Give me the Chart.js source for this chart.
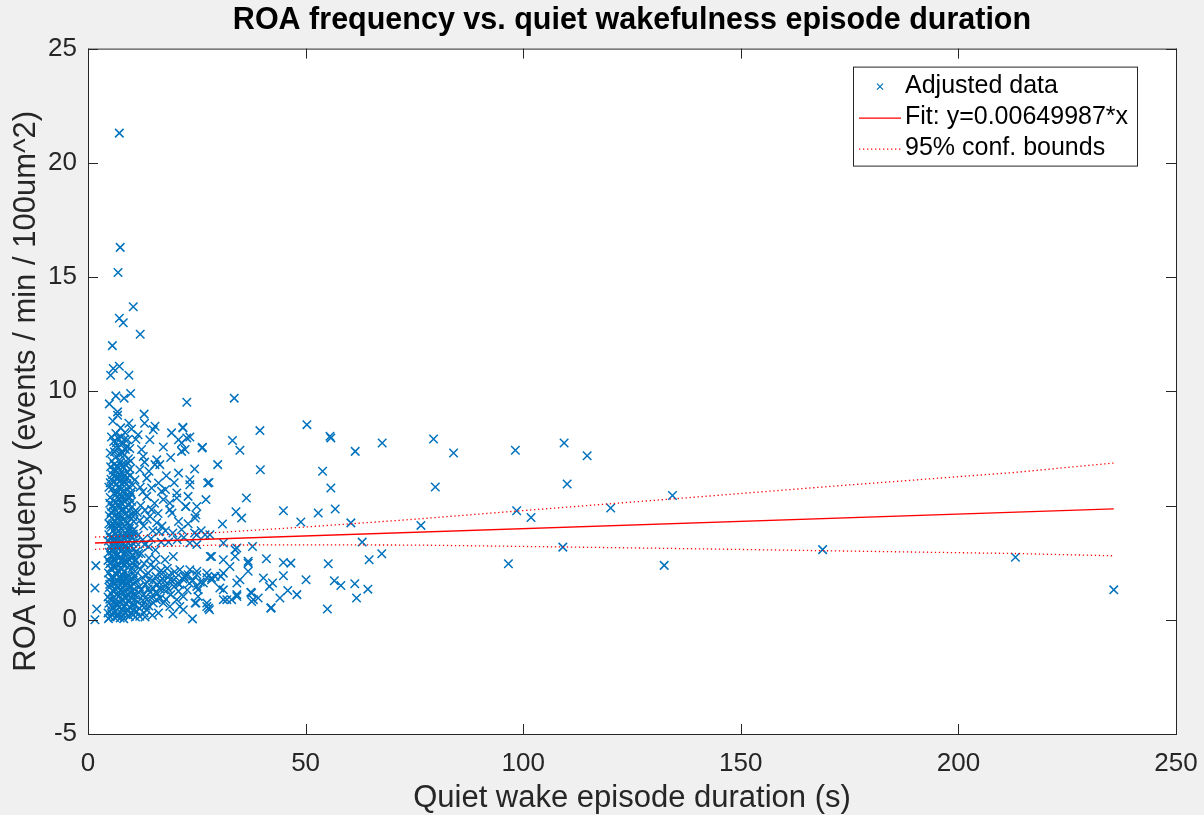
<!DOCTYPE html>
<html>
<head>
<meta charset="utf-8">
<script src="https://cdn.jsdelivr.net/npm/chart.js@4.4.1/dist/chart.umd.min.js"></script>
<style>
  html, body { margin: 0; padding: 0; background: #f0f0f0; }
  canvas { display: block; }
</style>
</head>
<body>
<canvas id="roaChart" width="1204" height="815"></canvas>
<script>
// episodes shorter than ~3 s (isolated, left of the main column)
const veryShort = [
  [1.8, 2.37], [1.6, 1.39], [2.0, 0.47], [1.6, 0.0]
];

// dense column, ~4.5-11 s
const shortEpisodes = [
  [5.1, 0.12], [6.3, 0.35], [7.4, 0.08], [8.6, 0.28], [9.5, 0.15], [10.4, 0.42], [5.8, 0.5], [7.9, 0.47],
  [4.8, 0.72], [5.9, 0.95], [6.8, 0.63], [7.7, 0.88], [8.9, 0.7], [9.8, 0.98], [10.6, 0.66],
  [5.3, 1.15], [6.4, 1.32], [7.2, 1.05], [8.1, 1.38], [9.1, 1.12], [10.2, 1.27], [4.9, 1.41],
  [5.6, 1.62], [6.7, 1.5], [7.6, 1.77], [8.5, 1.55], [9.4, 1.72], [10.5, 1.58], [6.0, 1.85],
  [4.7, 2.05], [5.5, 2.2], [6.6, 1.98], [7.5, 2.28], [8.3, 2.1], [9.3, 1.95], [10.1, 2.25],
  [5.0, 2.45], [6.2, 2.6], [7.1, 2.38], [8.0, 2.66], [9.0, 2.5], [9.9, 2.7], [5.7, 2.75],
  [4.9, 2.95], [6.0, 3.12], [6.9, 2.86], [7.8, 3.05], [8.7, 3.2], [9.6, 2.92], [10.5, 3.1],
  [5.4, 3.3], [6.4, 3.5], [7.3, 3.25], [8.2, 3.56], [9.2, 3.38], [10.1, 3.6],
  [4.8, 3.72], [5.8, 3.9], [6.7, 3.66], [7.7, 3.98], [8.6, 3.8], [9.5, 4.0], [10.4, 3.75],
  [5.2, 4.15], [6.2, 4.32], [7.1, 4.08], [8.1, 4.38], [9.0, 4.2], [9.9, 4.42],
  [4.9, 4.55], [5.9, 4.75], [6.8, 4.5], [7.6, 4.8], [8.5, 4.62], [9.5, 4.78], [10.3, 4.52],
  [5.5, 4.95], [6.4, 5.15], [7.3, 4.9], [8.3, 5.2], [9.2, 5.02], [10.0, 5.18],
  [5.1, 5.35], [6.1, 5.55], [7.0, 5.3], [7.9, 5.6], [8.8, 5.42], [9.8, 5.58],
  [5.6, 5.75], [6.6, 5.95], [7.5, 5.7], [8.4, 6.0], [9.4, 5.82], [10.3, 5.9],
  [5.3, 6.15], [6.2, 6.3], [7.2, 6.05], [8.0, 6.38], [9.0, 6.22],
  [5.8, 6.55], [6.8, 6.72], [7.7, 6.48], [8.6, 6.8], [9.6, 6.6],
  [5.5, 6.95], [6.5, 7.15], [7.4, 6.9], [8.3, 7.2], [9.3, 7.05],
  [6.1, 7.35], [7.0, 7.55], [8.0, 7.3], [8.9, 7.58],
  [5.9, 7.8], [6.9, 7.95], [7.8, 7.7], [9.1, 7.88],
  [6.4, 8.15], [7.5, 8.4], [8.5, 8.2], [10.0, 8.35],
  [5.7, 8.7], [6.8, 8.95], [9.4, 8.6],
  [5.5, 0.25], [6.9, 0.18], [8.2, 0.05], [9.0, 0.4], [4.6, 0.3], [6.0, 0.82], [7.3, 0.75], [8.4, 1.0],
  [9.5, 0.55], [10.8, 0.9], [5.0, 1.55], [6.5, 1.1], [7.9, 1.6], [8.9, 1.9], [10.0, 1.45],
  [5.3, 2.5], [6.8, 2.15], [7.9, 2.52], [9.6, 2.35], [10.8, 2.6], [5.6, 3.0], [7.4, 2.75],
  [8.6, 2.98], [10.2, 2.85], [6.3, 3.75], [7.2, 3.45], [8.9, 3.65], [10.6, 3.95], [5.5, 4.45],
  [7.4, 4.3], [8.8, 4.9], [10.6, 4.7], [6.3, 5.45], [7.7, 5.1], [9.6, 5.35], [5.6, 6.35],
  [7.9, 6.15], [9.8, 6.95],
  [4.7, 0.05], [5.4, 0.62], [6.6, 0.15], [7.1, 0.55], [8.0, 0.22], [8.8, 0.95], [9.9, 0.3], [10.9, 0.12],
  [4.6, 1.0], [5.7, 1.28], [6.2, 1.6], [7.0, 1.42], [7.8, 1.2], [8.6, 1.78], [9.7, 1.2], [10.7, 1.9],
  [4.8, 1.75], [5.9, 2.35], [6.4, 2.0], [7.3, 1.9], [8.2, 2.4], [9.1, 2.3], [10.4, 2.05], [11.2, 1.7],
  [4.6, 2.6], [5.6, 2.55], [6.5, 2.8], [7.6, 2.6], [8.4, 2.85], [9.4, 2.65], [10.9, 2.95], [11.3, 2.35],
  [5.2, 3.15], [6.2, 3.35], [7.0, 3.1], [8.0, 3.3], [8.9, 3.05], [9.8, 3.25], [11.0, 3.4],
  [4.7, 3.45], [5.6, 3.6], [6.5, 4.0], [7.4, 3.8], [8.4, 3.55], [9.3, 3.85], [10.2, 3.9],
  [4.8, 4.2], [5.7, 4.2], [6.6, 4.25], [7.6, 4.55], [8.6, 4.3], [9.4, 4.55], [10.5, 4.3],
  [5.0, 5.1], [5.9, 5.2], [6.9, 5.05], [7.8, 5.35], [8.9, 5.25], [9.9, 5.5],
  [4.8, 5.8], [5.9, 6.05], [6.9, 5.8], [7.8, 5.95], [8.7, 6.15], [9.6, 6.3],
  [5.2, 6.7], [6.4, 6.55], [7.3, 6.35], [8.1, 6.7], [9.1, 6.45],
  [5.1, 7.3], [6.3, 7.55], [7.3, 7.25], [8.6, 7.45], [9.6, 7.5],
  [5.4, 8.0], [6.5, 7.75], [7.6, 8.0], [8.4, 7.9],
  [5.2, 0.45], [6.1, 0.1], [7.6, 0.3], [8.4, 0.6], [9.2, 0.82], [10.1, 0.65],
  [5.0, 0.9], [6.3, 0.7], [7.5, 1.3], [8.3, 1.15], [9.6, 1.45], [10.5, 1.1],
  [5.4, 1.85], [6.9, 1.7], [8.0, 1.95], [9.0, 1.6], [10.3, 1.75],
  [5.2, 2.25], [6.3, 2.3], [7.7, 2.2], [8.7, 2.6], [10.6, 2.4],
  [5.3, 2.8], [6.6, 3.25], [7.5, 3.0], [9.3, 3.15], [10.3, 3.35],
  [5.1, 3.6], [6.0, 3.55], [7.9, 3.7], [9.8, 3.7],
  [5.4, 4.05], [6.9, 3.9], [8.3, 4.1], [9.7, 4.15],
  [5.3, 4.7], [7.1, 4.65], [8.1, 4.85], [10.1, 4.95],
  [5.8, 5.0], [7.4, 5.5], [8.6, 5.6], [6.6, 5.6],
  [5.1, 6.0], [7.0, 6.2], [8.9, 5.95],
  [6.0, 6.8], [7.6, 6.75], [9.2, 6.85],
  [7.2, 21.3], [7.4, 16.3], [6.9, 15.2], [10.4, 13.7], [7.2, 13.2], [8.1, 13.0], [12.0, 12.5],
  [5.6, 12.0], [7.2, 11.1], [5.8, 11.0], [5.2, 10.7], [9.4, 10.7], [4.9, 9.45], [6.4, 9.8],
  [8.3, 9.7], [9.8, 9.9], [6.8, 9.1]
];

// 11-30 s
const midEpisodes = [
  [11.2, 0.35], [12.4, 0.62], [13.1, 0.12], [13.5, 0.88], [13.5, 0.44], [14.3, 1.2], [15.0, 0.73],
  [15.7, 0.88], [16.2, 0.3], [17.3, 0.73], [18.8, 0.58], [20.4, 0.88], [21.1, 0.58], [21.9, 0.44],
  [19.5, 0.25], [11.9, 0.15], [10.4, 0.22],
  [11.0, 1.05], [11.8, 1.45], [12.5, 1.85], [13.2, 1.55], [14.0, 1.75], [14.8, 1.4], [15.6, 1.9],
  [16.4, 1.62], [17.1, 1.8], [17.9, 1.5], [18.6, 1.95], [19.4, 1.68], [20.2, 1.85], [21.0, 1.55],
  [21.8, 1.78], [22.6, 1.92], [23.3, 1.6], [24.1, 1.72], [25.0, 1.97], [25.8, 1.65], [26.5, 1.61],
  [27.3, 1.85], [28.4, 1.75], [29.2, 1.9], [22.1, 1.9], [23.0, 1.97],
  [12.0, 2.2], [13.8, 2.05], [15.2, 2.3], [16.8, 2.15], [18.2, 2.25], [19.9, 2.1], [21.1, 2.19],
  [23.4, 2.19], [25.0, 2.12], [27.3, 2.05], [28.4, 1.83],
  [11.5, 0.78], [12.8, 1.1], [14.6, 0.95], [16.0, 1.15], [17.5, 1.3], [19.0, 1.1], [20.8, 1.25],
  [21.9, 1.02], [22.8, 1.3], [24.8, 0.73], [25.3, 1.31], [25.0, 1.46], [27.3, 0.58], [27.3, 0.73],
  [27.7, 0.51], [24.0, 0.04], [27.9, 0.44], [25.3, 1.02], [24.6, 0.73],
  [11.8, 0.5], [12.9, 0.3], [14.0, 0.6], [14.8, 0.2], [15.5, 1.2], [16.6, 0.95], [17.9, 0.9],
  [18.4, 1.35], [19.8, 1.45], [20.6, 1.6], [12.2, 1.3], [13.4, 1.95], [14.4, 2.4], [15.9, 1.55],
  [16.9, 2.0], [17.6, 1.7], [18.9, 1.75],
  [11.6, 1.2], [12.6, 0.85], [13.8, 1.35], [14.9, 1.7], [16.5, 1.35], [12.9, 2.45], [15.6, 2.65],
  [13.3, 0.6],
  [11.0, 2.6], [12.2, 2.9], [13.0, 3.3], [11.5, 3.7], [12.8, 4.1], [14.0, 2.7], [14.5, 3.55],
  [15.5, 3.05], [16.3, 3.85], [17.7, 2.63], [19.6, 2.77], [18.5, 3.4], [19.5, 3.8], [20.5, 3.5],
  [21.5, 3.95], [22.0, 3.6], [23.4, 3.36], [24.5, 3.8], [25.0, 3.72], [26.9, 3.72], [28.0, 3.72],
  [25.0, 3.29], [28.1, 2.77], [28.4, 2.77], [26.0, 3.9], [13.6, 4.4], [15.8, 4.25], [17.0, 4.1],
  [18.8, 4.82], [19.3, 4.67], [14.2, 4.53], [14.6, 4.82], [24.6, 4.45], [24.8, 4.6], [22.5, 4.96],
  [25.0, 4.96], [11.3, 4.7], [12.1, 5.0], [16.1, 4.65], [20.8, 4.3], [23.0, 4.2], [22.4, 4.96],
  [11.6, 2.9], [12.6, 3.5], [13.9, 3.2], [14.9, 3.9], [16.8, 3.4], [17.8, 3.9], [11.9, 4.35],
  [13.1, 4.8], [15.3, 5.1], [12.6, 5.6], [14.0, 6.5], [17.8, 5.7], [19.8, 6.0],
  [15.4, 8.47], [15.0, 8.32], [19.2, 8.18], [21.8, 8.4], [20.8, 7.88], [22.7, 7.96], [21.5, 7.37],
  [17.3, 7.56], [14.2, 7.88], [12.3, 7.45], [12.7, 7.15], [26.3, 7.55], [20.8, 6.42], [15.8, 7.0],
  [16.5, 6.79], [15.4, 6.79], [11.9, 6.57], [13.5, 6.2], [16.2, 5.99], [16.9, 5.62], [14.6, 5.77],
  [10.8, 6.13], [23.4, 6.13], [23.4, 5.91], [23.0, 5.4], [20.4, 5.55], [20.4, 5.33], [27.5, 5.99],
  [27.1, 5.26], [18.8, 5.11], [17.3, 5.26], [13.5, 5.4], [22.7, 9.52], [21.8, 8.43], [23.4, 8.0],
  [26.2, 7.52], [27.8, 6.01], [11.5, 8.1], [13.0, 8.6], [11.0, 7.9], [12.0, 5.8], [13.0, 6.9],
  [18.0, 6.3], [19.0, 7.1], [24.5, 6.6], [12.9, 9.0], [21.5, 7.74], [22.3, 7.45], [29.8, 6.79]
];

// longer than 30 s
const longEpisodes = [
  [33.6, 9.7], [39.5, 8.28], [50.3, 8.54], [33.2, 7.85], [34.9, 7.42], [55.6, 8.03], [55.8, 7.96],
  [61.4, 7.37], [67.6, 7.74], [39.6, 6.57], [53.9, 6.5], [55.8, 5.77], [36.4, 5.33], [44.9, 4.77],
  [34.0, 4.73], [35.3, 4.45], [52.9, 4.67], [56.8, 4.85], [48.9, 4.28], [60.4, 4.24], [76.5, 4.13],
  [30.9, 4.19], [63.0, 3.40], [67.5, 2.89], [64.6, 2.63], [55.2, 2.45], [37.8, 3.21], [41.0, 2.67],
  [44.9, 2.51], [46.6, 2.48], [50.1, 1.75], [56.6, 1.71], [58.1, 1.50], [61.3, 1.58], [64.3, 1.34],
  [61.7, 0.95], [55.0, 0.47], [42.1, 0.53], [48.0, 1.10], [45.9, 1.28], [44.1, 0.95], [40.3, 1.83],
  [42.4, 1.61], [41.7, 1.46], [44.9, 1.93], [37.4, 1.2], [39.1, 0.95], [37.6, 0.80], [34.9, 1.75],
  [34.2, 1.10], [33.0, 0.88], [36.8, 2.56], [36.8, 2.12], [31.1, 2.63], [32.6, 2.33], [33.8, 3.07],
  [33.8, 2.77], [31.1, 2.04], [31.1, 3.36], [34.2, 3.14], [36.8, 2.48], [34.2, 1.02], [34.2, 1.61],
  [37.6, 1.17], [38.0, 0.88], [42.0, 0.51], [30.3, 1.39], [31.1, 0.88], [31.1, 1.31], [31.9, 0.88],
  [30.5, 1.9],
  [79.4, 7.91], [84.0, 7.30], [98.2, 7.42], [109.4, 7.74], [114.7, 7.18], [79.8, 5.81], [110.1, 5.94],
  [134.3, 5.44], [98.5, 4.77], [101.8, 4.48], [120.1, 4.89], [109.1, 3.18], [96.6, 2.45], [132.4, 2.38],
  [168.8, 3.07], [213.1, 2.74], [235.7, 1.31]
];

// fitted line and 95% bounds
const fitX = [1.6, 235.7];
const fitY = [3.36, 4.85];
const boundX = [1.6, 15, 30, 50, 75, 100, 135, 170, 213, 235.7];
const upperY = [3.62, 3.70, 3.82, 4.06, 4.40, 4.78, 5.30, 5.83, 6.45, 6.86];
const lowerY = [3.08, 3.20, 3.27, 3.28, 3.27, 3.21, 3.12, 3.02, 2.90, 2.80];

const xTicks = [0, 50, 100, 150, 200, 250];
const yTicks = [-5, 0, 5, 10, 15, 20, 25];

const FONT = "'Liberation Sans', Helvetica, Arial, sans-serif";
const AXIS_COLOR = '#262626';
const BLUE = 'rgb(0, 114, 189)';
const RED = '#ff0000';

const toPts = arr => arr.map(([x, y]) => ({x, y}));
const zipPts = (xs, ys) => xs.map((x, i) => ({x, y: ys[i]}));

const scatterData = toPts([...veryShort, ...shortEpisodes, ...midEpisodes, ...longEpisodes]);

const matlabFrame = {
  id: 'matlabFrame',
  beforeDraw(chart) {
    const {ctx, chartArea: {left, top, right, bottom}} = chart;
    ctx.save();
    ctx.fillStyle = '#f0f0f0';
    ctx.fillRect(0, 0, chart.width, chart.height);
    ctx.fillStyle = '#ffffff';
    ctx.fillRect(left, top, right - left, bottom - top);
    ctx.restore();
  },
  afterDraw(chart) {
    const {ctx, chartArea: {left, top, right, bottom}, scales: {x, y}} = chart;
    ctx.save();
    ctx.strokeStyle = AXIS_COLOR;
    ctx.lineWidth = 1;
    ctx.strokeRect(left + 0.5, top + 0.5, right - left, bottom - top);

    // inward ticks on all four sides
    const tl = 10;
    ctx.beginPath();
    xTicks.forEach(v => {
      const px = Math.round(x.getPixelForValue(v)) + 0.5;
      ctx.moveTo(px, bottom); ctx.lineTo(px, bottom - tl);
      ctx.moveTo(px, top); ctx.lineTo(px, top + tl);
    });
    yTicks.forEach(v => {
      const py = Math.round(y.getPixelForValue(v)) + 0.5;
      ctx.moveTo(left, py); ctx.lineTo(left + tl, py);
      ctx.moveTo(right, py); ctx.lineTo(right - tl, py);
    });
    ctx.stroke();

    // legend box (top right, inside axes)
    const bx = right - 323, by = top + 18, bw = 284, bh = 99;
    ctx.fillStyle = '#ffffff';
    ctx.fillRect(bx, by, bw, bh);
    ctx.strokeRect(bx + 0.5, by + 0.5, bw, bh);

    const rows = [by + 20, by + 51, by + 82];
    const sx0 = bx + 6, sx1 = bx + 48, tx = bx + 52;

    // marker sample
    ctx.strokeStyle = BLUE;
    ctx.lineWidth = 1.2;
    ctx.beginPath();
    const mx = (sx0 + sx1) / 2, my = rows[0], ms = 3;
    ctx.moveTo(mx - ms, my - ms); ctx.lineTo(mx + ms, my + ms);
    ctx.moveTo(mx - ms, my + ms); ctx.lineTo(mx + ms, my - ms);
    ctx.stroke();

    // fit sample
    ctx.strokeStyle = RED;
    ctx.lineWidth = 1.3;
    ctx.beginPath();
    ctx.moveTo(sx0, rows[1] + 0.5); ctx.lineTo(sx1, rows[1] + 0.5);
    ctx.stroke();

    // bounds sample
    ctx.strokeStyle = RED;
    ctx.lineWidth = 1.3;
    ctx.setLineDash([1.3, 2.7]);
    ctx.beginPath();
    ctx.moveTo(sx0, rows[2] + 0.5); ctx.lineTo(sx1, rows[2] + 0.5);
    ctx.stroke();
    ctx.setLineDash([]);

    ctx.fillStyle = '#000000';
    ctx.font = '25px ' + FONT;
    ctx.textAlign = 'left';
    ctx.textBaseline = 'middle';
    ctx.fillText('Adjusted data', tx, rows[0]);
    ctx.fillText('Fit: y=0.00649987*x', tx, rows[1]);
    ctx.fillText('95% conf. bounds', tx, rows[2]);
    ctx.restore();
  }
};

const ctx = document.getElementById('roaChart').getContext('2d');

new Chart(ctx, {
  type: 'scatter',
  data: {
    datasets: [
      {
        label: 'Fit: y=0.00649987*x',
        data: zipPts(fitX, fitY),
        showLine: true,
        borderColor: RED,
        borderWidth: 1.3,
        pointRadius: 0,
        order: 1
      },
      {
        label: '95% conf. bounds',
        data: zipPts(boundX, upperY),
        showLine: true,
        borderColor: RED,
        borderWidth: 1.3,
        borderDash: [1.3, 2.7],
        pointRadius: 0,
        order: 1
      },
      {
        label: '95% conf. bounds (lower)',
        data: zipPts(boundX, lowerY),
        showLine: true,
        borderColor: RED,
        borderWidth: 1.3,
        borderDash: [1.3, 2.7],
        pointRadius: 0,
        order: 1
      },
      {
        label: 'Adjusted data',
        data: scatterData,
        pointStyle: 'crossRot',
        pointRadius: 6,
        borderColor: BLUE,
        backgroundColor: BLUE,
        pointBorderWidth: 1.5,
        order: 2
      }
    ]
  },
  options: {
    responsive: false,
    animation: false,
    layout: {
      padding: {top: 0, right: 28, bottom: 0, left: 0}
    },
    plugins: {
      legend: {display: false},
      tooltip: {enabled: false},
      title: {
        display: true,
        fullSize: false,
        text: 'ROA frequency vs. quiet wakefulness episode duration',
        color: '#000000',
        font: {family: FONT, size: 30.5, weight: 'bold', lineHeight: 1.2},
        padding: {top: 2, bottom: 10}
      }
    },
    scales: {
      x: {
        type: 'linear',
        min: 0,
        max: 250,
        afterFit(scale) {
          scale.height = 81;
          scale.paddingLeft = 0;
          scale.paddingRight = 0;
        },
        afterBuildTicks(scale) { scale.ticks = xTicks.map(v => ({value: v})); },
        grid: {display: false, drawTicks: false},
        border: {display: false},
        ticks: {
          color: AXIS_COLOR,
          font: {family: FONT, size: 26},
          padding: 14,
          maxRotation: 0
        },
        title: {
          display: true,
          text: 'Quiet wake episode duration (s)',
          color: AXIS_COLOR,
          font: {family: FONT, size: 31, lineHeight: 1},
          padding: {top: 0, bottom: 1}
        }
      },
      y: {
        type: 'linear',
        min: -5,
        max: 25,
        afterFit(scale) {
          scale.width = 88;
          scale.paddingTop = 0;
          scale.paddingBottom = 0;
        },
        afterBuildTicks(scale) { scale.ticks = yTicks.map(v => ({value: v})); },
        grid: {display: false, drawTicks: false},
        border: {display: false},
        ticks: {
          color: AXIS_COLOR,
          font: {family: FONT, size: 26},
          padding: 11
        },
        title: {
          display: true,
          text: 'ROA frequency (events / min / 100um^2)',
          color: AXIS_COLOR,
          font: {family: FONT, size: 31, lineHeight: 1},
          padding: {top: 11, bottom: 0}
        }
      }
    }
  },
  plugins: [matlabFrame]
});
</script>
</body>
</html>
